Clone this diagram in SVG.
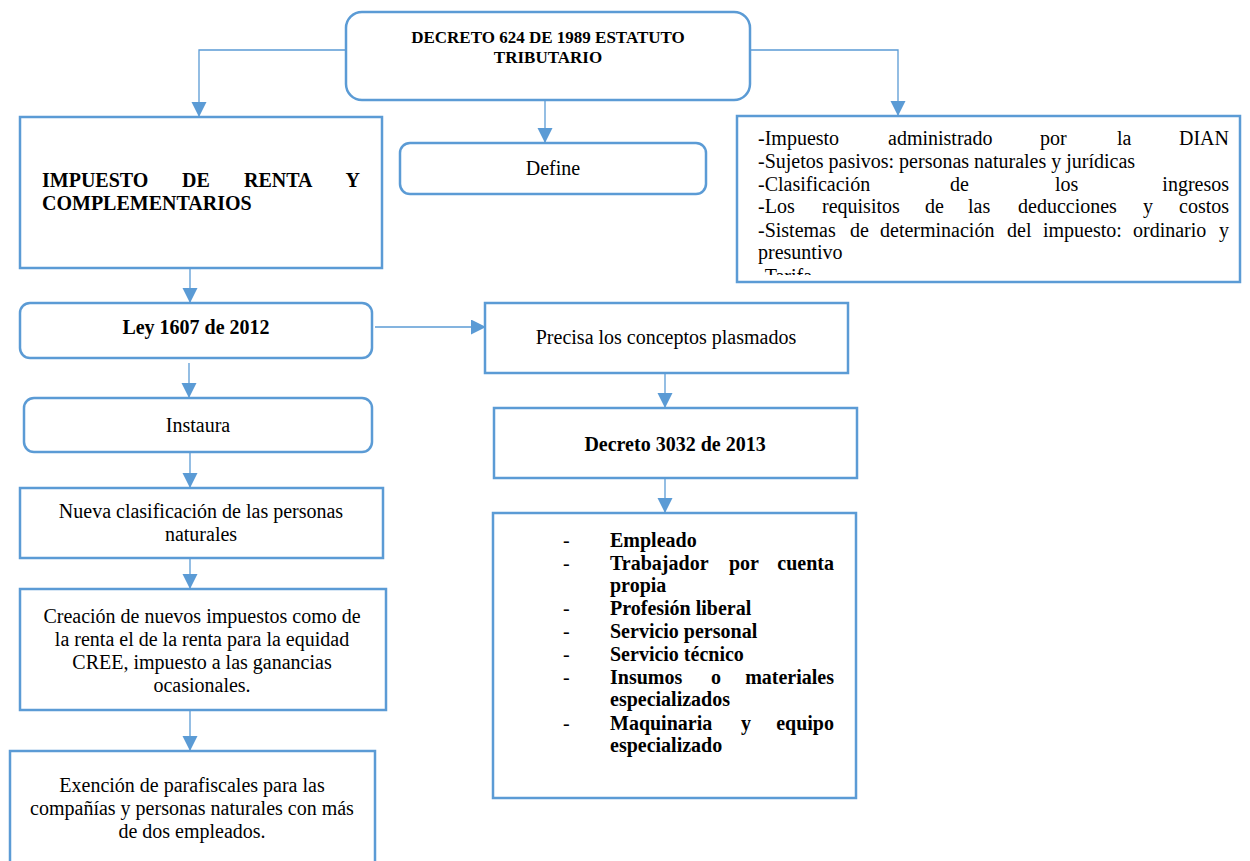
<svg xmlns="http://www.w3.org/2000/svg" width="1250" height="861" viewBox="0 0 1250 861">
<style>
.box{fill:#fff;stroke:#5B9BD5;stroke-width:2.5}
.con{fill:none;stroke:#5B9BD5;stroke-width:1.3}
text{font-family:"Liberation Serif","Times New Roman",serif;font-size:20px;fill:#000}
.b{font-weight:bold}
.c{text-anchor:middle}
.e{text-anchor:end}
</style>
<defs>
<marker id="ah" markerUnits="userSpaceOnUse" markerWidth="16" markerHeight="16" refX="14" refY="7.5" orient="auto">
<path d="M0,0 L15,7.5 L0,15 z" fill="#5B9BD5"/>
</marker>
<clipPath id="clipR"><rect x="737" y="116" width="503" height="159"/></clipPath>
</defs>
<rect width="1250" height="861" fill="#fff"/>
<g id="connectors">
<path class="con" d="M346,50 H199 V116" marker-end="url(#ah)"/>
<path class="con" d="M750,50 H898 V115" marker-end="url(#ah)"/>
<path class="con" d="M545,101 V142" marker-end="url(#ah)"/>
<path class="con" d="M190,268 V302" marker-end="url(#ah)"/>
<path class="con" d="M189,363 V397" marker-end="url(#ah)"/>
<path class="con" d="M375,327 H485" marker-end="url(#ah)"/>
<path class="con" d="M665,373 V407" marker-end="url(#ah)"/>
<path class="con" d="M665,478 V512" marker-end="url(#ah)"/>
<path class="con" d="M190,452 V487" marker-end="url(#ah)"/>
<path class="con" d="M190,558 V588" marker-end="url(#ah)"/>
<path class="con" d="M190,710 V750" marker-end="url(#ah)"/>
</g>
<g id="decreto624">
<rect class="box" x="346" y="12" width="404" height="88" rx="16"/>
<text class="b c" x="548" y="43" style="font-size:17px">DECRETO 624 DE 1989 ESTATUTO</text>
<text class="b c" x="548" y="63" style="font-size:17px">TRIBUTARIO</text>
</g>
<g id="impuesto">
<rect class="box" x="20" y="117" width="362" height="151"/>
<text class="b" y="187"><tspan x="42">IMPUESTO</tspan><tspan x="182">DE</tspan><tspan x="244">RENTA</tspan><tspan x="360" text-anchor="end">Y</tspan></text>
<text class="b" x="42" y="210">COMPLEMENTARIOS</text>
</g>
<g id="define">
<rect class="box" x="400" y="143" width="306" height="51" rx="10"/>
<text class="c" x="553" y="175">Define</text>
</g>
<g id="caracteristicas">
<rect class="box" x="737" y="116" width="503" height="166"/>
<g clip-path="url(#clipR)">
<text y="145"><tspan x="758">-Impuesto</tspan><tspan x="888">administrado</tspan><tspan x="1040">por</tspan><tspan x="1117">la</tspan><tspan x="1229" text-anchor="end">DIAN</tspan></text>
<text x="758" y="168">-Sujetos pasivos: personas naturales y jurídicas</text>
<text y="191"><tspan x="758">-Clasificación</tspan><tspan x="950">de</tspan><tspan x="1055">los</tspan><tspan x="1229" text-anchor="end">ingresos</tspan></text>
<text y="213"><tspan x="758">-Los</tspan><tspan x="822">requisitos</tspan><tspan x="925">de</tspan><tspan x="968">las</tspan><tspan x="1018">deducciones</tspan><tspan x="1143">y</tspan><tspan x="1229" text-anchor="end">costos</tspan></text>
<text y="237"><tspan x="758">-Sistemas</tspan><tspan x="850">de</tspan><tspan x="880">determinación</tspan><tspan x="1007">del</tspan><tspan x="1043">impuesto:</tspan><tspan x="1133">ordinario</tspan><tspan x="1229" text-anchor="end">y</tspan></text>
<text x="758" y="259">presuntivo</text>
<text x="758" y="283">-Tarifa</text>
</g>
</g>
<g id="ley1607">
<rect class="box" x="20" y="303" width="352" height="55" rx="10"/>
<text class="b c" x="196" y="334">Ley 1607 de 2012</text>
</g>
<g id="precisa">
<rect class="box" x="485" y="303" width="363" height="70"/>
<text class="c" x="666" y="344">Precisa los conceptos plasmados</text>
</g>
<g id="instaura">
<rect class="box" x="24" y="398" width="348" height="54" rx="10"/>
<text class="c" x="198" y="432">Instaura</text>
</g>
<g id="decreto3032">
<rect class="box" x="494" y="408" width="363" height="70"/>
<text class="b c" x="675" y="451">Decreto 3032 de 2013</text>
</g>
<g id="lista">
<rect class="box" x="493" y="513" width="363" height="285"/>
<text x="563" y="547">-</text><text class="b" x="610" y="547">Empleado</text>
<text x="563" y="570">-</text><text class="b" y="570"><tspan x="610">Trabajador</tspan><tspan x="729">por</tspan><tspan x="834" text-anchor="end">cuenta</tspan></text>
<text class="b" x="610" y="592">propia</text>
<text x="563" y="615">-</text><text class="b" x="610" y="615">Profesión liberal</text>
<text x="563" y="638">-</text><text class="b" x="610" y="638">Servicio personal</text>
<text x="563" y="661">-</text><text class="b" x="610" y="661">Servicio técnico</text>
<text x="563" y="684">-</text><text class="b" y="684"><tspan x="610">Insumos</tspan><tspan x="711">o</tspan><tspan x="834" text-anchor="end">materiales</tspan></text>
<text class="b" x="610" y="706">especializados</text>
<text x="563" y="730">-</text><text class="b" y="730"><tspan x="610">Maquinaria</tspan><tspan x="741">y</tspan><tspan x="834" text-anchor="end">equipo</tspan></text>
<text class="b" x="610" y="752">especializado</text>
</g>
<g id="nueva">
<rect class="box" x="20" y="488" width="363" height="70"/>
<text class="c" x="201" y="518">Nueva clasificación de las personas</text>
<text class="c" x="201" y="541">naturales</text>
</g>
<g id="creacion">
<rect class="box" x="20" y="589" width="366" height="121"/>
<text class="c" x="202" y="623">Creación de nuevos impuestos como de</text>
<text class="c" x="202" y="646">la renta el de la renta para la equidad</text>
<text class="c" x="202" y="669">CREE, impuesto a las ganancias</text>
<text class="c" x="202" y="692">ocasionales.</text>
</g>
<g id="exencion">
<rect class="box" x="10" y="751" width="365" height="130"/>
<text class="c" x="192" y="792">Exención de parafiscales para las</text>
<text class="c" x="192" y="815">compañías y personas naturales con más</text>
<text class="c" x="192" y="838">de dos empleados.</text>
</g>
</svg>
